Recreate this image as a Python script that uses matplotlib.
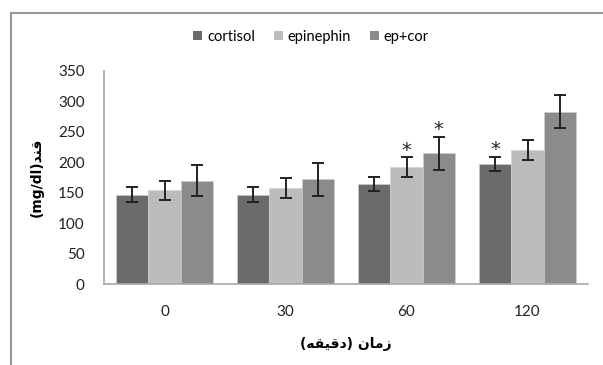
import numpy as np
import matplotlib.pyplot as plt
from matplotlib.lines import Line2D

# زمن بالدقائق
categories = ['0', '30', '60', '120']
series_names = ['cortisol', 'epinephin', 'ep+cor']

cortisol = [147, 147, 164, 197]
epinephin = [154, 158, 192, 220]
ep_cor = [170, 172, 215, 283]

cortisol_err = [12, 12, 12, 12]
epinephin_err = [16, 16, 16, 16]
ep_cor_err = [26, 27, 27, 27]

# علامات المعنوية (سلسلة، فئة)
stars = [(1, 2), (2, 2), (0, 3)]

colors = ['#6b6b6b', '#bcbcbc', '#8b8b8b']

# النص العربي مكتوب بأشكال العرض لأن matplotlib لا يشكل العربية
xlabel_txt = '(\ufeea\ufed8\ufef4\ufed7\ufea9) \ufee5\ufe8e\ufee3\ufeaf'
ylabel_txt = '(mg/dl)\ufeaa\ufee8\ufed7'

fig = plt.figure(figsize=(6.03, 3.65), dpi=100)
ax = fig.add_axes([104 / 603, 81 / 365, 484 / 603, 213 / 365])

values = [cortisol, epinephin, ep_cor]
errs = [cortisol_err, epinephin_err, ep_cor_err]
x = np.arange(len(categories))
w = 0.8 / 3

for i in range(3):
    ax.bar(x + (i - 1) * w, values[i], w, color=colors[i], edgecolor='#d0d0d0',
           linewidth=0.4, label=series_names[i], zorder=2)
    ax.errorbar(x + (i - 1) * w, values[i], yerr=errs[i], fmt='none',
                ecolor='#222222', elinewidth=1.4, capsize=4, capthick=1.4, zorder=3)

for s, c in stars:
    ax.annotate('*', (x[c] + (s - 1) * w, values[s][c] + errs[s][c]),
                xytext=(0, -1.5), textcoords='offset points', ha='center', va='bottom',
                fontsize=14, color='#222222', family='DejaVu Sans')

ax.set_xlim(-0.5, 3.5)
ax.set_ylim(0, 350)
ax.set_yticks(range(0, 351, 50))
ax.set_xticks(x)
ax.set_xticklabels(categories)
ax.tick_params(length=0, labelsize=11, colors='#222222')
ax.tick_params(axis='y', pad=14)
ax.tick_params(axis='x', pad=15)
for sp in ['top', 'right']:
    ax.spines[sp].set_visible(False)
for sp in ['left', 'bottom']:
    ax.spines[sp].set_color('#a8a8a8')
    ax.spines[sp].set_linewidth(1.2)

ax.set_xlabel(xlabel_txt, family=['DejaVu Sans'], fontweight='bold', fontsize=10,
              labelpad=13)
ax.set_ylabel(ylabel_txt, family=['DejaVu Sans'], fontweight='bold', fontsize=10,
              labelpad=10)

for t in ax.get_xticklabels() + ax.get_yticklabels():
    t.set_family('Lato')

leg = fig.legend(loc='center', bbox_to_anchor=(311 / 603, 1 - 37 / 365), ncol=3,
                 frameon=False, handlelength=0.6, handleheight=0.6,
                 handletextpad=0.35, columnspacing=1.3,
                 prop={'family': 'Lato', 'size': 10.5})
for h in leg.legend_handles:
    h.set_edgecolor('none')

# الإطار الخارجي (أعلى ويسار فقط)
fig.add_artist(Line2D([11 / 603, 1], [1 - 13 / 365] * 2, color='#999999', lw=1.5))
fig.add_artist(Line2D([11 / 603] * 2, [0, 1 - 13 / 365], color='#999999', lw=1.5))

fig.savefig('out.png', dpi=100)
